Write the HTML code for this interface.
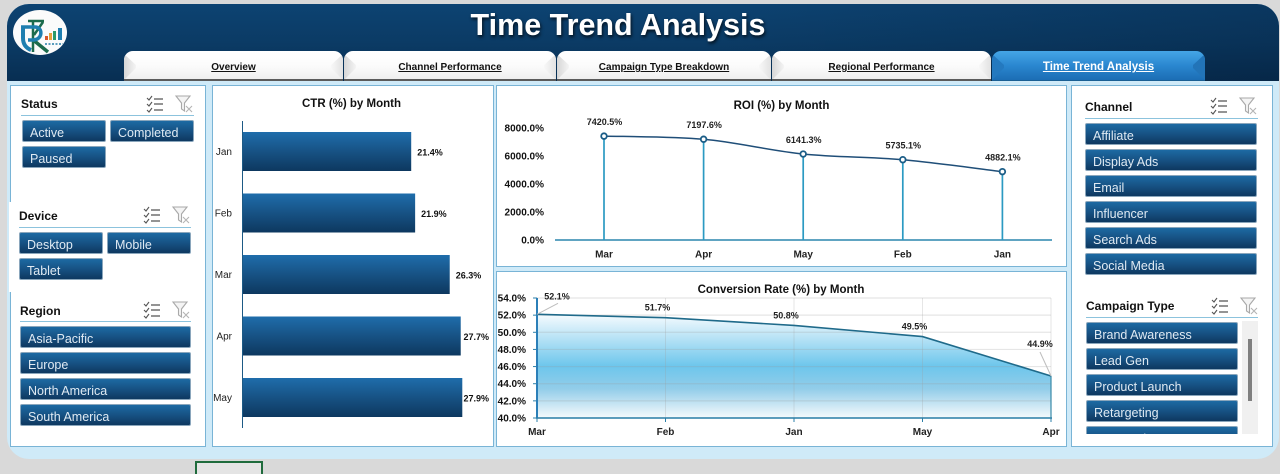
<!DOCTYPE html>
<html lang="en">
<head>
<meta charset="utf-8">
<title>Time Trend Analysis</title>
<style>
html,body{margin:0;padding:0;width:1280px;height:474px;overflow:hidden;background:#d9d9d9;font-family:"Liberation Sans",sans-serif}
*{box-sizing:border-box}
.abs,.panel,.btn,.tab,.st,.ln,.ico{position:absolute}
#shell{left:7px;top:4px;width:1272px;height:455px;background:#cfeaf8;border-radius:22px}
#header{left:7px;top:4px;width:1272px;height:77px;border-radius:22px 22px 0 0;background:linear-gradient(90deg,rgba(0,0,0,0) 55%,rgba(0,15,35,.22) 100%),linear-gradient(180deg,#0d4372 0%,#0b3b65 50%,#082e52 100%)}
#title{left:318px;top:7px;width:600px;text-align:center;color:#fff;font-weight:bold;font-size:30.5px;line-height:36px;text-shadow:1px 2px 3px rgba(0,0,0,.75)}
.tab{top:51px;height:30px;border-radius:9px 9px 0 0;background:linear-gradient(180deg,#ffffff 0%,#fcfcfc 50%,#efefef 100%);border-bottom:2px solid #5b5b5b;text-align:center;font-size:10px;font-weight:bold;color:#111;line-height:33px;text-decoration:underline;overflow:hidden}
.tab:before{content:"";position:absolute;left:0;top:0;width:12px;height:29px;background:linear-gradient(90deg,#d6d6d6,#f4f4f4);clip-path:polygon(0 3px,100% 14px,100% 17px,0 100%)}
.tab:after{content:"";position:absolute;right:0;top:0;width:12px;height:29px;background:linear-gradient(270deg,#e2e2e2,#f8f8f8);clip-path:polygon(100% 3px,0 14px,0 17px,100% 100%)}
.tab.on{background:linear-gradient(180deg,#45a5e6 0%,#2a87d0 50%,#1c6db4 100%);color:#fff;font-size:11.5px;border-bottom:1px solid #1a5f94;line-height:32px}
.tab.on:before{background:#2479bf}
.tab.on:after{background:#2274b8}
.panel{background:#fff;border:1px solid #79b4d6}
.st{font-size:12px;font-weight:bold;color:#111;line-height:14px}
.ln{height:1px;background:#8cc3dd}
.btn{height:22px;border-radius:2px;background:linear-gradient(180deg,#1d6aa3 0%,#164f80 55%,#0e3860 100%);border:1px solid #8aa6bc;color:#dfeaf3;font-size:12.5px;line-height:24px;padding-left:7px;white-space:nowrap;overflow:hidden}
.ico{width:20px;height:18px}
#cell{left:195px;top:461px;width:68px;height:13px;border:2px solid #1f6b3c;border-bottom:0;background:#e4e4e4}
#ctype-clip{left:1086px;top:321px;width:153px;height:113px;overflow:hidden}
#ctype-clip .btn{width:152px;left:0}
svg.chart{position:absolute;left:0;top:0;pointer-events:none}
svg.chart text{font-family:"Liberation Sans",sans-serif}
</style>
</head>
<body>
<svg width="0" height="0" style="position:absolute" aria-hidden="true">
<symbol id="i-multi" viewBox="0 0 20 18"><path d="M2 3l2 2 3-4M2 9l2 2 3-4M2 15l2 2 3-4" fill="none" stroke="#555" stroke-width="1.1"/><path d="M9 4h9M9 9h9M9 15h9" stroke="#555" stroke-width="1.2"/></symbol>
<symbol id="i-clear" viewBox="0 0 20 18"><path d="M2 1h14l-5.500 7v8l-3-2V8z" fill="#f4f4f4" stroke="#a9a9a9" stroke-width="1.100"/><path d="M12 11l6 6M18 11l-6 6" stroke="#b5b5b5" stroke-width="1.100"/></symbol>
</svg>

<div class="abs" id="shell"></div>
<div class="abs" id="header"></div>
<svg class="abs" style="left:13px;top:10px" width="54" height="45" viewBox="0 0 54 45">
<ellipse cx="27" cy="22.500" rx="27" ry="22.500" fill="#fbfbfb"/>
<g fill="none" stroke-linecap="butt">
<path d="M20 10V42M15 11H31M21 25L30 12" stroke="#1c6b4c" stroke-width="2.500"/>
<path d="M19 29L35 42" stroke="#1c6b4c" stroke-width="3.500"/>
<path d="M8 17H22C30 17 30 29 21 30H15" stroke="#1f7fb0" stroke-width="3.500"/>
<path d="M10 17V28C10 34 13 38 18 40" stroke="#1f7fb0" stroke-width="4"/>
</g>
<rect x="32" y="26" width="3" height="4" fill="#d9572b"/><rect x="36" y="23" width="3" height="7" fill="#e9a13b"/><rect x="40" y="21" width="3" height="9" fill="#2a9a6a"/><rect x="45" y="18" width="4" height="12" fill="#1f7fb0"/>
<path d="M32 34h18" stroke="#5b9dbd" stroke-width="2" stroke-dasharray="2 1.500"/>
</svg>
<div class="abs" id="title">Time Trend Analysis</div>

<div class="tab" style="left:124px;width:219px">Overview</div>
<div class="tab" style="left:344px;width:212px">Channel Performance</div>
<div class="tab" style="left:557px;width:214px">Campaign Type Breakdown</div>
<div class="tab" style="left:772px;width:219px">Regional Performance</div>
<div class="tab on" style="left:992px;width:213px">Time Trend Analysis</div>

<!-- Left slicer panel -->
<div class="panel" style="left:10px;top:85px;width:196px;height:362px"></div>
<div class="abs" style="left:9px;top:202px;width:8px;height:90px;background:#fff"></div>

<div class="st" style="left:21px;top:97px">Status</div>
<svg class="ico" style="left:145px;top:95px"><use href="#i-multi"/></svg>
<svg class="ico" style="left:174px;top:95px"><use href="#i-clear"/></svg>
<div class="ln" style="left:21px;top:115px;width:173px"></div>
<div class="btn" style="left:22px;top:120px;width:84px">Active</div>
<div class="btn" style="left:110px;top:120px;width:84px">Completed</div>
<div class="btn" style="left:22px;top:146px;width:84px">Paused</div>

<div class="st" style="left:19px;top:209px">Device</div>
<svg class="ico" style="left:142px;top:206px"><use href="#i-multi"/></svg>
<svg class="ico" style="left:171px;top:206px"><use href="#i-clear"/></svg>
<div class="ln" style="left:19px;top:227px;width:172px"></div>
<div class="btn" style="left:19px;top:232px;width:84px">Desktop</div>
<div class="btn" style="left:107px;top:232px;width:84px">Mobile</div>
<div class="btn" style="left:19px;top:258px;width:84px">Tablet</div>

<div class="st" style="left:20px;top:304px">Region</div>
<svg class="ico" style="left:142px;top:301px"><use href="#i-multi"/></svg>
<svg class="ico" style="left:171px;top:301px"><use href="#i-clear"/></svg>
<div class="ln" style="left:20px;top:321px;width:171px"></div>
<div class="btn" style="left:20px;top:326px;width:171px">Asia-Pacific</div>
<div class="btn" style="left:20px;top:352px;width:171px">Europe</div>
<div class="btn" style="left:20px;top:378px;width:171px">North America</div>
<div class="btn" style="left:20px;top:404px;width:171px">South America</div>

<!-- Chart panels -->
<div class="panel" style="left:212px;top:85px;width:282px;height:362px"></div>
<div class="panel" style="left:496px;top:85px;width:571px;height:182px"></div>
<div class="panel" style="left:496px;top:271px;width:571px;height:176px"></div>

<!-- Right slicer panel -->
<div class="panel" style="left:1071px;top:85px;width:202px;height:362px"></div>
<div class="st" style="left:1085px;top:100px">Channel</div>
<svg class="ico" style="left:1209px;top:97px"><use href="#i-multi"/></svg>
<svg class="ico" style="left:1238px;top:97px"><use href="#i-clear"/></svg>
<div class="ln" style="left:1085px;top:118px;width:173px"></div>
<div class="btn" style="left:1085px;top:123px;width:172px">Affiliate</div>
<div class="btn" style="left:1085px;top:149px;width:172px">Display Ads</div>
<div class="btn" style="left:1085px;top:175px;width:172px">Email</div>
<div class="btn" style="left:1085px;top:201px;width:172px">Influencer</div>
<div class="btn" style="left:1085px;top:227px;width:172px">Search Ads</div>
<div class="btn" style="left:1085px;top:253px;width:172px">Social Media</div>

<div class="st" style="left:1086px;top:299px">Campaign Type</div>
<svg class="ico" style="left:1210px;top:297px"><use href="#i-multi"/></svg>
<svg class="ico" style="left:1239px;top:297px"><use href="#i-clear"/></svg>
<div class="ln" style="left:1086px;top:317px;width:172px"></div>
<div class="abs" id="ctype-clip">
<div class="btn" style="top:1px">Brand Awareness</div>
<div class="btn" style="top:27px">Lead Gen</div>
<div class="btn" style="top:53px">Product Launch</div>
<div class="btn" style="top:79px">Retargeting</div>
<div class="btn" style="top:105px">Seasonal Promo</div>
</div>
<div class="abs" style="left:1242px;top:321px;width:16px;height:113px;background:#f0f0f0"></div>
<div class="abs" style="left:1248px;top:339px;width:4px;height:62px;background:#808080"></div>

<div class="abs" id="cell"></div>

<svg class="chart" id="charts" width="1280" height="474" viewBox="0 0 1280 474">
<defs>
<linearGradient id="barFill" x1="0" y1="0" x2="0" y2="1"><stop offset="0" stop-color="#1f6dab"/><stop offset=".5" stop-color="#175284"/><stop offset="1" stop-color="#0d385f"/></linearGradient>
<linearGradient id="areaFill" x1="0" y1="0" x2="0" y2="1"><stop offset="0" stop-color="#f6fbfe"/><stop offset=".5" stop-color="#6dc6ec"/><stop offset=".72" stop-color="#93cde9"/><stop offset="1" stop-color="#f6fafc"/></linearGradient>
</defs>
</svg>

<script>
const ctrMonths = ['Jan','Feb','Mar','Apr','May'];
const ctrValues = [21.4,21.9,26.3,27.7,27.9];
const roiMonths = ['Mar','Apr','May','Feb','Jan'];
const roiValues = [7420.5,7197.6,6141.3,5735.1,4882.1];
const roiTicks = [0,2000,4000,6000,8000];
const convMonths = ['Mar','Feb','Jan','May','Apr'];
const convValues = [52.1,51.7,50.8,49.5,44.9];
const convTicks = [40,42,44,46,48,50,52,54];

const NS = 'http://www.w3.org/2000/svg';
const root = document.getElementById('charts');
function make(tag, attrs, text) {
  const el = document.createElementNS(NS, tag);
  for (const k in attrs) el.setAttribute(k, attrs[k]);
  if (text !== undefined) el.textContent = text;
  root.appendChild(el);
  return el;
}
function smoothPath(pts) {
  let d = 'M' + pts[0][0] + ' ' + pts[0][1];
  for (let i = 0; i < pts.length - 1; i++) {
    const p0 = pts[Math.max(i - 1, 0)], p1 = pts[i], p2 = pts[i + 1], p3 = pts[Math.min(i + 2, pts.length - 1)];
    const c1x = p1[0] + (p2[0] - p0[0]) / 6, c1y = p1[1] + (p2[1] - p0[1]) / 6;
    const c2x = p2[0] - (p3[0] - p1[0]) / 6, c2y = p2[1] - (p3[1] - p1[1]) / 6;
    d += ' C' + c1x + ' ' + c1y + ' ' + c2x + ' ' + c2y + ' ' + p2[0] + ' ' + p2[1];
  }
  return d;
}

/* ---------- CTR horizontal bars ---------- */
const ctrX = v => 243 + v * 7.86;
const ctrY = i => 151.5 + i * 61.5;
let t = make('text', {x: 351.5, y: 107, 'text-anchor': 'middle', 'font-size': 11.5, 'font-weight': 'bold', fill: '#111'}, 'CTR (%) by Month');


ctrValues.forEach((v, i) => {
  const bar = make('rect', {x: ctrX(0), y: ctrY(i) - 19.5, width: ctrX(v) - ctrX(0), height: 39, fill: 'url(#barFill)'});
  
  
  const lab = make('text', {x: Math.min(ctrX(v) + 6, 463.5), y: ctrY(i) + 4, 'font-size': 9, 'font-weight': 'bold', fill: '#111'}, v.toFixed(1) + '%');
  
  
  const cat = make('text', {x: 232, y: ctrY(i) + 3.500, 'text-anchor': 'end', 'font-size': 10, fill: '#222'}, ctrMonths[i]);
  
  
});
const ctrAxis = make('line', {x1: 242.500, x2: 242.500, y1: 121, y2: 428, stroke: '#1d5a85', 'stroke-width': 1});



/* ---------- ROI line with stems ---------- */
const roiX = i => 604 + i * 99.6;
const roiY = v => 240 - v * 0.014;
t = make('text', {x: 781.5, y: 109, 'text-anchor': 'middle', 'font-size': 11.5, 'font-weight': 'bold', fill: '#111'}, 'ROI (%) by Month');


roiTicks.forEach(v => {
  const lab = make('text', {x: 544, y: roiY(v) + 3.500, 'text-anchor': 'end', 'font-size': 10, 'font-weight': 'bold', fill: '#111'}, v.toFixed(1) + '%');
  
  
});
const roiAxis = make('line', {x1: 555, x2: 1052, y1: roiY(0), y2: roiY(0), stroke: '#2b86ad', 'stroke-width': 1.500});


roiValues.forEach((v, i) => {
  const stem = make('line', {x1: roiX(i), x2: roiX(i), y1: roiY(v), y2: roiY(0), stroke: '#2b9ac2', 'stroke-width': 1.700});
  
  
});
const roiLine = make('path', {d: smoothPath(roiValues.map((v, i) => [roiX(i), roiY(v)])), fill: 'none', stroke: '#1f4e78', 'stroke-width': 1.500});


roiValues.forEach((v, i) => {
  const pt = make('circle', {cx: roiX(i), cy: roiY(v), r: 2.800, fill: '#fff', stroke: '#1b5d87', 'stroke-width': 1.800});
  
  
  const lab = make('text', {x: roiX(i) + 0.500, y: roiY(v) - 11, 'text-anchor': 'middle', 'font-size': 9, 'font-weight': 'bold', fill: '#222'}, v.toFixed(1) + '%');
  
  
  const cat = make('text', {x: roiX(i), y: 257.500, 'text-anchor': 'middle', 'font-size': 10, 'font-weight': 'bold', fill: '#222'}, roiMonths[i]);
  
  
});

/* ---------- Conversion area ---------- */
const convX = i => 537 + i * 128.5;
const convY = v => 418 - (v - 40) * 120 / 14;
const lastI = convValues.length - 1;
t = make('text', {x: 781, y: 293, 'text-anchor': 'middle', 'font-size': 11.5, 'font-weight': 'bold', fill: '#111'}, 'Conversion Rate (%) by Month');


const convPts = convValues.map((v, i) => [convX(i), convY(v)]);
const area = make('path', {d: 'M' + convX(0) + ' ' + convY(40) + ' L' + convPts.map(p => p[0] + ' ' + p[1]).join(' L') + ' L' + convX(lastI) + ' ' + convY(40) + ' Z', fill: 'url(#areaFill)'});


convTicks.forEach(v => {
  const grid = make('line', {x1: 537, x2: convX(lastI), y1: convY(v), y2: convY(v), stroke: '#9a9a9a', 'stroke-opacity': .25, 'stroke-width': 1.200});
  
  
  const tick = make('line', {x1: 533, x2: 537, y1: convY(v), y2: convY(v), stroke: '#2b7fa8', 'stroke-width': 1});
  
  
  const lab = make('text', {x: 526, y: convY(v) + 3.500, 'text-anchor': 'end', 'font-size': 10, 'font-weight': 'bold', fill: '#111'}, v.toFixed(1) + '%');
  
  
});
convMonths.forEach((m, i) => {
  if (i > 0) {
    const g = make('line', {x1: convX(i), x2: convX(i), y1: convY(54), y2: convY(40), stroke: '#9a9a9a', 'stroke-opacity': .25, 'stroke-width': 1});
    
    
  }
  const tick = make('line', {x1: convX(i), x2: convX(i), y1: 418, y2: 422, stroke: '#2b7fa8', 'stroke-width': 1});
  
  
  const cat = make('text', {x: convX(i), y: 435, 'text-anchor': 'middle', 'font-size': 10, 'font-weight': 'bold', fill: '#222'}, m);
  
  
});
const yAxis = make('line', {x1: 537, x2: 537, y1: convY(54), y2: convY(40), stroke: '#2b7fb8', 'stroke-width': 2});


const xAxis = make('line', {x1: 536, x2: convX(lastI) + 1, y1: convY(40), y2: convY(40), stroke: '#2b7fa8', 'stroke-width': 1.500});


const rightEdge = make('line', {x1: convX(lastI), x2: convX(lastI), y1: convY(convValues[lastI]), y2: convY(40), stroke: '#3a8aa8', 'stroke-width': 1.200});


const convLine = make('polyline', {points: convPts.map(p => p.join(',')).join(' '), fill: 'none', stroke: '#1f6a8a', 'stroke-width': 1.600});


convValues.forEach((v, i) => {
  let lx = convX(i) - 8, ly = convY(v) - 7;
  if (i === 0) {
    lx = convX(i) + 20; ly = convY(v) - 15;
    const lead = make('line', {x1: convX(i), y1: convY(v), x2: convX(i) + 21, y2: convY(v) - 11, stroke: '#bdbdbd', 'stroke-width': 1});
    
    
  }
  if (i === lastI) {
    lx = convX(i) - 11; ly = convY(v) - 29;
    const lead = make('line', {x1: convX(i), y1: convY(v), x2: convX(i) - 11, y2: convY(v) - 24, stroke: '#bdbdbd', 'stroke-width': 1});
    
    
  }
  const lab = make('text', {x: lx, y: ly, 'text-anchor': 'middle', 'font-size': 9, 'font-weight': 'bold', fill: '#222'}, v.toFixed(1) + '%');
  
  
});
</script>
</body>
</html>
